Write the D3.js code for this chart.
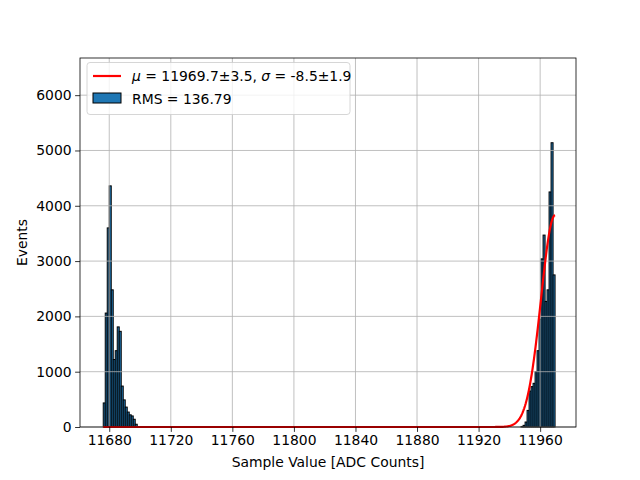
<!DOCTYPE html>
<html>
<head>
<meta charset="utf-8">
<script src="https://cdn.jsdelivr.net/npm/d3@7"></script>
<style>
  html, body { margin: 0; padding: 0; background: #fff; }
  svg { display: block; }
  text { font-family: "DejaVu Sans", sans-serif; }
</style>
</head>
<body>
<svg id="chart" width="640" height="480"></svg>
<script>
// ---- Data ----
const binStart = 11676.1;
const binEnd = 11969.7;
const binCount = 226;
// counts of the low cluster (first bins) and high cluster (last bins)
const lowClusterCounts = [435, 2060, 3600, 4360, 2480, 1220, 1380, 1810, 1730, 740, 490, 360, 270, 220, 200, 140, 50];
const highClusterCounts = [10, 30, 90, 300, 650, 730, 790, 1000, 1380, 1950, 3040, 3470, 2270, 2480, 4250, 5140, 2750];
const fitMu = 11969.7;
const fitSigma = 9.1;
const fitAmp = 3830;
const fitLabel = ["μ", " = 11969.7±3.5, ", "σ", " = -8.5±1.9"];
const rmsLabel = "RMS = 136.79";
const xTicks = [11680, 11720, 11760, 11800, 11840, 11880, 11920, 11960];
const yTicks = [0, 1000, 2000, 3000, 4000, 5000, 6000];
const xLabel = "Sample Value [ADC Counts]";
const yLabel = "Events";

// ---- Build bins ----
const binW = (binEnd - binStart) / binCount;
const counts = new Array(binCount).fill(0);
lowClusterCounts.forEach((c, i) => counts[i] = c);
highClusterCounts.forEach((c, i) => counts[binCount - highClusterCounts.length + i] = c);
const bins = counts.map((c, i) => ({x0: binStart + i * binW, x1: binStart + (i + 1) * binW, n: c}));

// ---- Layout ----
const svg = d3.select("#chart");
const L = 80, R = 576, T = 58, B = 427;
const x = d3.scaleLinear().domain([11661.0, 11983.3]).range([L, R]);
const y = d3.scaleLinear().domain([0, 6672]).range([B, T]);

const g = svg.append("g");

// bars
g.append("g").selectAll("rect").data(bins.filter(d => d.n > 0)).join("rect")
  .attr("x", d => x(d.x0))
  .attr("y", d => y(d.n))
  .attr("width", d => x(d.x1) - x(d.x0))
  .attr("height", d => y(0) - y(d.n))
  .attr("fill", "#1f77b4")
  .attr("stroke", "#000")
  .attr("stroke-width", 1);

// grid (drawn above patches, below lines)
const grid = g.append("g").attr("stroke", "#b0b0b0").attr("stroke-width", 0.8);
grid.selectAll("line.gx").data(xTicks).join("line").attr("class", "gx")
  .attr("x1", d => x(d)).attr("x2", d => x(d)).attr("y1", T).attr("y2", B);
grid.selectAll("line.gy").data(yTicks).join("line").attr("class", "gy")
  .attr("x1", L).attr("x2", R).attr("y1", d => y(d)).attr("y2", d => y(d));

// fit curve
const curvePts = d3.range(0, 601).map(i => {
  const xv = binStart + (binEnd - binStart) * i / 600;
  return [xv, fitAmp * Math.exp(-((xv - fitMu) ** 2) / (2 * fitSigma * fitSigma))];
});
g.append("path").datum(curvePts)
  .attr("fill", "none").attr("stroke", "red").attr("stroke-width", 2.2)
  .attr("d", d3.line().x(d => x(d[0])).y(d => y(d[1])));

// axes
const xAxis = d3.axisBottom(x).tickValues(xTicks).tickFormat(d3.format("d")).tickSizeOuter(0).tickSize(4.9).tickPadding(3.5);
const yAxis = d3.axisLeft(y).tickValues(yTicks).tickFormat(d3.format("d")).tickSizeOuter(0).tickSize(4.9).tickPadding(3.5);
const gx = svg.append("g").attr("transform", `translate(0,${B})`).call(xAxis);
const gy = svg.append("g").attr("transform", `translate(${L},0)`).call(yAxis);
[gx, gy].forEach(a => {
  a.select(".domain").remove();
  a.selectAll("text").attr("font-size", 13.9).attr("fill", "#000").attr("font-family", "DejaVu Sans");
  a.selectAll("line").attr("stroke", "#000").attr("stroke-width", 0.8);
});

// spines
svg.append("rect").attr("x", L).attr("y", T).attr("width", R - L).attr("height", B - T)
  .attr("fill", "none").attr("stroke", "#000").attr("stroke-width", 0.8);

// axis labels
svg.append("text").attr("x", (L + R) / 2).attr("y", 467).attr("text-anchor", "middle")
  .attr("font-size", 13.9).text(xLabel);
svg.append("text").attr("transform", `translate(27,${(T + B) / 2}) rotate(-90)`).attr("text-anchor", "middle")
  .attr("font-size", 13.9).text(yLabel);

// legend
const leg = svg.append("g");
leg.append("rect").attr("x", 87).attr("y", 62.5).attr("width", 263).attr("height", 52)
  .attr("rx", 3).attr("fill", "#fff").attr("fill-opacity", 0.8)
  .attr("stroke", "#cccccc").attr("stroke-width", 0.8);
leg.append("line").attr("x1", 93).attr("x2", 121).attr("y1", 76).attr("y2", 76)
  .attr("stroke", "red").attr("stroke-width", 2.2);
const t1 = leg.append("text").attr("x", 132).attr("y", 81).attr("font-size", 13.9);
fitLabel.forEach((s, i) => {
  t1.append("tspan").attr("font-style", i % 2 === 0 ? "italic" : "normal").text(s);
});
leg.append("rect").attr("x", 93).attr("y", 93).attr("width", 28).attr("height", 10)
  .attr("fill", "#1f77b4").attr("stroke", "#000").attr("stroke-width", 1);
leg.append("text").attr("x", 132).attr("y", 103.5).attr("font-size", 13.9).text(rmsLabel);
</script>
</body>
</html>
